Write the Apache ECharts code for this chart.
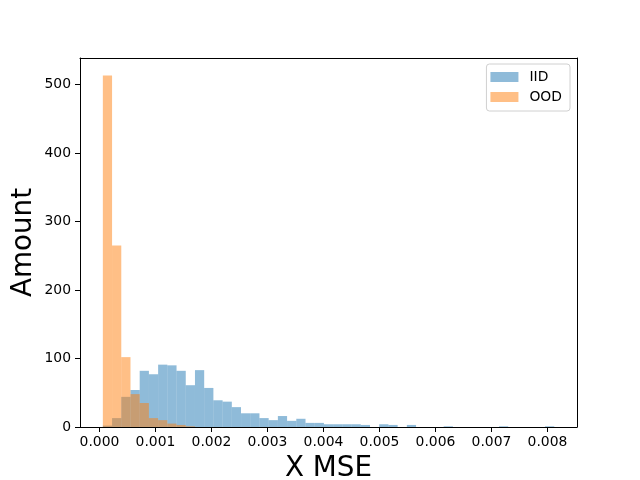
<!DOCTYPE html>
<html>
<head>
<meta charset="utf-8">
<script src="https://cdn.jsdelivr.net/npm/echarts@6/dist/echarts.min.js"></script>
<style>
  html, body { margin: 0; padding: 0; background: #fff; }
  #chart { width: 640px; height: 480px; }
</style>
</head>
<body>
<div id="chart"></div>
<script>
// histogram bins (shared edges)
var binStart = 0.00006;
var binWidth = 0.0001645;
var iidCounts = [2, 13, 44, 54, 82, 77, 91, 90, 82, 61,
                 83, 57, 39, 37, 29, 20, 20, 13, 10, 16,
                 9, 12, 6, 6, 4, 4, 4, 4, 3, 0,
                 4, 3, 0, 3, 0, 0, 0, 1, 0, 0,
                 0, 0, 0, 1, 0, 0, 0, 0, 1];
var oodCounts = [513, 265, 102, 48, 35, 13, 10, 5, 3, 1];
var xTicks = [0, 0.001, 0.002, 0.003, 0.004, 0.005, 0.006, 0.007, 0.008];
var yTicks = [0, 100, 200, 300, 400, 500];

var FONT = 'DejaVu Sans';

// turn counts into [left edge, right edge, count]
function toBins(counts) {
    var out = [];
    for (var i = 0; i < counts.length; i++) {
        out.push([binStart + i * binWidth, binStart + (i + 1) * binWidth, counts[i]]);
    }
    return out;
}

function barRenderer(fill) {
    return function(params, api) {
        if (!api.value(2)) return null;
        var top = api.coord([api.value(0), api.value(2)]);
        var bottom = api.coord([api.value(1), 0]);
        return {
            type: 'rect',
            shape: { x: top[0], y: top[1], width: bottom[0] - top[0], height: bottom[1] - top[1] },
            style: { fill: fill }
        };
    };
}

var blue = 'rgba(31,119,180,0.5)';
var orange = 'rgba(255,127,14,0.5)';

var chart = echarts.init(document.getElementById('chart'), null, { renderer: 'canvas' });

// top / right spines
var frameAxis = {
    axisLine: { show: true, onZero: false, lineStyle: { color: '#000', width: 1 } },
    axisTick: { show: false },
    axisLabel: { show: false },
    splitLine: { show: false }
};

var option = {
    animation: false,
    backgroundColor: '#fff',
    textStyle: { fontFamily: FONT },
    grid: { left: 80, right: 63, top: 58, bottom: 53, containLabel: false, outerBoundsMode: 'none' },
    legend: {
        orient: 'vertical',
        right: 70,
        top: 64,
        itemWidth: 28,
        itemHeight: 10,
        itemGap: 6,
        padding: [6, 8, 7, 4],
        borderColor: '#d0d0d0',
        borderWidth: 1,
        borderRadius: 3,
        backgroundColor: 'rgba(255,255,255,0.8)',
        textStyle: { fontFamily: FONT, fontSize: 13.9, color: '#000', padding: [2, 0, 2, 6] },
        data: [
            { name: 'IID', icon: 'rect', itemStyle: { color: blue } },
            { name: 'OOD', icon: 'rect', itemStyle: { color: orange } }
        ]
    },
    xAxis: [{
        type: 'value',
        min: -0.000348,
        max: 0.008527,
        name: 'X MSE',
        nameLocation: 'middle',
        nameGap: 28,
        nameTextStyle: { fontFamily: FONT, fontSize: 27.8, color: '#000' },
        axisLine: { show: true, onZero: false, lineStyle: { color: '#000', width: 1 } },
        axisTick: { show: true, inside: false, length: 5, customValues: xTicks, lineStyle: { color: '#000' } },
        axisLabel: {
            show: true, customValues: xTicks, margin: 8,
            fontFamily: FONT, fontSize: 13.9, color: '#000',
            formatter: function(v) { return v.toFixed(3); }
        },
        splitLine: { show: false }
    }, Object.assign({ type: 'value', position: 'top', min: -0.000348, max: 0.008527 }, frameAxis)],
    yAxis: [{
        type: 'value',
        min: 0,
        max: 538.6,
        name: 'Amount',
        nameLocation: 'middle',
        nameGap: 42,
        nameMoveOverlap: false,
        nameTextStyle: { fontFamily: FONT, fontSize: 27.8, color: '#000' },
        axisLine: { show: true, onZero: false, lineStyle: { color: '#000', width: 1 } },
        axisTick: { show: true, inside: false, length: 5, customValues: yTicks, lineStyle: { color: '#000' } },
        axisLabel: {
            show: true, customValues: yTicks, margin: 9,
            fontFamily: FONT, fontSize: 13.9, color: '#000'
        },
        splitLine: { show: false }
    }, Object.assign({ type: 'value', position: 'right', min: 0, max: 538.6 }, frameAxis)],
    series: [{
        name: 'IID',
        type: 'custom',
        itemStyle: { color: blue },
        renderItem: barRenderer(blue),
        encode: { x: [0, 1], y: 2 },
        data: toBins(iidCounts)
    }, {
        name: 'OOD',
        type: 'custom',
        itemStyle: { color: orange },
        renderItem: barRenderer(orange),
        encode: { x: [0, 1], y: 2 },
        data: toBins(oodCounts)
    }]
};

chart.setOption(option);
</script>
</body>
</html>
